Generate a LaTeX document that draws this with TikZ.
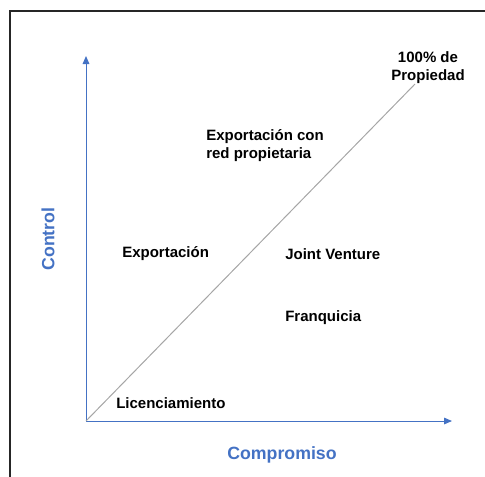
\documentclass[tikz,border=0pt]{standalone}
\usepackage{fontspec}
\setmainfont{Liberation Sans}
\usepackage{tikz}
\usetikzlibrary{arrows.meta}

\definecolor{ejeazul}{HTML}{4472C4}
\definecolor{diaggris}{HTML}{A6A6A6}

\tikzset{
    eje/.style={draw=ejeazul, line width=0.75pt, -{Triangle[length=6pt,width=5pt]}},
    etiqueta/.style={font=\fontsize{11.25}{13.5}\selectfont\bfseries, inner sep=0pt},
    titulo/.style={font=\fontsize{13.3}{16}\selectfont\bfseries, text=ejeazul, inner sep=0pt}
}

\begin{document}
\begin{tikzpicture}[x=0.75pt, y=-0.75pt]
    \useasboundingbox (0,0) rectangle (485,476);
    % Marco
    \draw[line width=1.6pt, draw=black!85] (10,480) -- (10,11) -- (490,11);

    % Ejes
    \coordinate (origen) at (86,421);
    \coordinate (ytop) at (86,56);
    \coordinate (xfin) at (452,421);
    \coordinate (diagfin) at (415,84);
    \draw[eje] (origen) -- (ytop);
    \draw[eje] (origen) -- (xfin);
    \draw[draw=diaggris, line width=0.75pt] (origen) -- (diagfin);

    \node[titulo] (compromiso) at (282,455) {Compromiso};
    \node[titulo, rotate=90] (control) at (48,239) {Control};

    % Modos de entrada
    \node[etiqueta, anchor=west] (licencia) at (116,403) {Licenciamiento};
    \node[etiqueta, anchor=west] (exporta) at (122,254) {Exportación};
    \node[etiqueta, anchor=west] (joint) at (285,254) {Joint Venture};
    \node[etiqueta, anchor=west] (franquicia) at (285,318) {Franquicia};
    \node[etiqueta, anchor=west, align=left] (redprop) at (206,146) {Exportación con\\red propietaria};
    \node[etiqueta, align=center] (propiedad) at (428,68) {100\% de\\Propiedad};
\end{tikzpicture}
\end{document}
